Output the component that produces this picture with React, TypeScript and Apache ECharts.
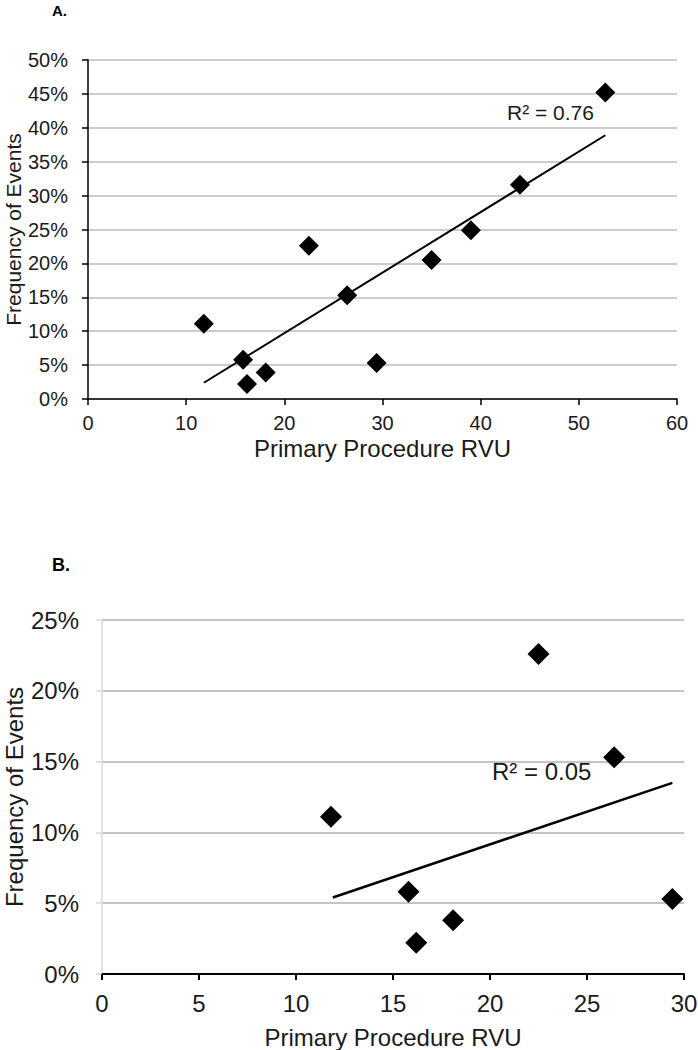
import React, { useEffect, useRef } from "react";
import * as echarts from "echarts";

// RVU (x) and frequency of events in % (y)
const rvuA = [11.8, 15.8, 16.2, 18.1, 22.5, 26.4, 29.4, 35.0, 39.0, 44.0, 52.7];
const freqA = [11.1, 5.8, 2.2, 3.9, 22.6, 15.3, 5.3, 20.5, 24.9, 31.6, 45.2];
const rvuB = [11.8, 15.8, 16.2, 18.1, 22.5, 26.4, 29.4];
const freqB = [11.1, 5.8, 2.2, 3.8, 22.6, 15.3, 5.3];
// trendline end points
const trendA = [[11.8, 2.4], [52.7, 38.9]];
const trendB = [[11.9, 5.4], [29.4, 13.5]];
const r2A = "R² = 0.76";
const r2B = "R² = 0.05";
const panelA = "A.";
const panelB = "B.";
const xTitle = "Primary Procedure RVU";
const yTitle = "Frequency of Events";

const FONT = "'Liberation Sans', Arial, sans-serif";
const TXT = "#1a1a1a";

export default function App() {
  const ref = useRef<HTMLDivElement>(null);
  useEffect(() => {
    if (!ref.current) return;
    const chart = echarts.init(ref.current, null, { renderer: "svg" });
    const ptsA = rvuA.map((x, i) => [x, freqA[i]]);
    const ptsB = rvuB.map((x, i) => [x, freqB[i]]);
    chart.setOption({
      animation: false,
      backgroundColor: "#ffffff",
      textStyle: { fontFamily: FONT },
      grid: [
        { left: 88, top: 60, width: 589, height: 339, containLabel: false, outerBoundsMode: "none" },
        { left: 102, top: 620, width: 582, height: 354, containLabel: false, outerBoundsMode: "none" },
      ],
      xAxis: [
        {
          gridIndex: 0,
          type: "value",
          min: 0,
          max: 60,
          interval: 10,
          name: xTitle,
          nameLocation: "middle",
          nameGap: 37,
          nameMoveOverlap: false,
          nameTextStyle: { fontSize: 24, color: TXT, fontFamily: FONT },
          axisLine: { lineStyle: { color: "#000", width: 1.5 } },
          axisTick: { show: true, length: 6, lineStyle: { color: "#000", width: 1.5 } },
          axisLabel: { fontSize: 20, color: TXT, margin: 14, fontFamily: FONT },
          splitLine: { show: false },
        },
        {
          gridIndex: 1,
          type: "value",
          min: 0,
          max: 30,
          interval: 5,
          name: xTitle,
          nameLocation: "middle",
          nameGap: 51,
          nameMoveOverlap: false,
          nameTextStyle: { fontSize: 24, color: TXT, fontFamily: FONT },
          axisLine: { lineStyle: { color: "#000", width: 2 } },
          axisTick: { show: true, length: 6, lineStyle: { color: "#000", width: 2 } },
          axisLabel: { fontSize: 24, color: TXT, margin: 17, fontFamily: FONT },
          splitLine: { show: false },
        },
      ],
      yAxis: [
        {
          gridIndex: 0,
          type: "value",
          min: 0,
          max: 50,
          interval: 5,
          name: yTitle,
          nameLocation: "middle",
          nameGap: 64,
          nameRotate: 90,
          nameMoveOverlap: false,
          nameTextStyle: { fontSize: 21, color: TXT, fontFamily: FONT },
          axisLine: { show: true, lineStyle: { color: "#000", width: 1.5 } },
          axisTick: { show: true, length: 6, lineStyle: { color: "#000", width: 1.5 } },
          axisLabel: { fontSize: 20, color: TXT, margin: 20, formatter: "{value}%", fontFamily: FONT },
          splitLine: { show: true, lineStyle: { color: "#bdbdbd", width: 1.5 } },
        },
        {
          gridIndex: 1,
          type: "value",
          min: 0,
          max: 25,
          interval: 5,
          name: yTitle,
          nameLocation: "middle",
          nameGap: 76,
          nameRotate: 90,
          nameMoveOverlap: false,
          nameTextStyle: { fontSize: 24, color: TXT, fontFamily: FONT },
          axisLine: { show: true, lineStyle: { color: "#d9d9d9", width: 1.5 } },
          axisTick: { show: true, length: 6, lineStyle: { color: "#d9d9d9", width: 1.5 } },
          axisLabel: { fontSize: 24, color: TXT, margin: 23, formatter: "{value}%", fontFamily: FONT },
          splitLine: { show: true, lineStyle: { color: "#b0b0b0", width: 1.5 } },
        },
      ],
      series: [
        {
          type: "line",
          xAxisIndex: 0,
          yAxisIndex: 0,
          data: trendA,
          showSymbol: false,
          symbol: "none",
          lineStyle: { color: "#000", width: 2 },
          z: 2,
        },
        {
          type: "scatter",
          xAxisIndex: 0,
          yAxisIndex: 0,
          data: ptsA,
          symbol: "diamond",
          symbolSize: 20,
          itemStyle: { color: "#000", opacity: 1 },
          z: 3,
        },
        {
          type: "line",
          xAxisIndex: 1,
          yAxisIndex: 1,
          data: trendB,
          showSymbol: false,
          symbol: "none",
          lineStyle: { color: "#000", width: 2.5 },
          z: 2,
        },
        {
          type: "scatter",
          xAxisIndex: 1,
          yAxisIndex: 1,
          data: ptsB,
          symbol: "diamond",
          symbolSize: 22,
          itemStyle: { color: "#000", opacity: 1 },
          z: 3,
        },
      ],
      graphic: [
        {
          type: "text",
          left: 52,
          top: 3,
          style: { text: panelA, font: `bold 15px ${FONT}`, fill: "#000" },
        },
        {
          type: "text",
          left: 52,
          top: 556,
          style: { text: panelB, font: `bold 18px ${FONT}`, fill: "#000" },
        },
        {
          type: "text",
          left: 507,
          top: 102,
          style: { text: r2A, font: `21px ${FONT}`, fill: TXT },
        },
        {
          type: "text",
          left: 492,
          top: 759,
          style: { text: r2B, font: `24px ${FONT}`, fill: TXT },
        },
      ],
    });
    return () => chart.dispose();
  }, []);
  return (
    <div
      ref={ref}
      style={{ position: "fixed", left: 0, top: 0, width: 698, height: 1050, background: "#fff" }}
    />
  );
}
